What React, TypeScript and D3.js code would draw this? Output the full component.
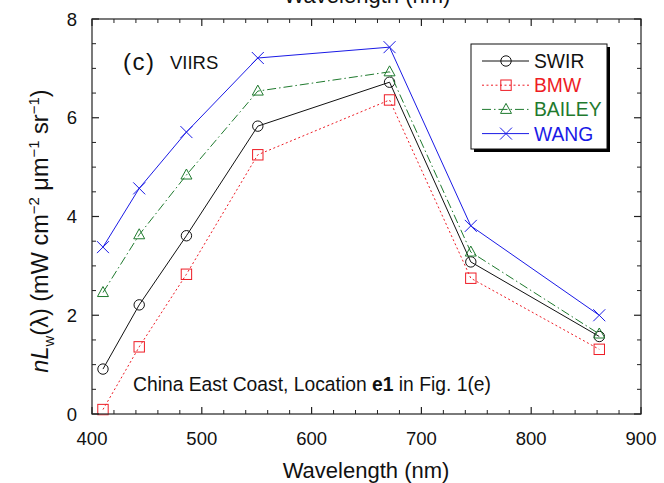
import React from "react";
import * as d3 from "d3";

// VIIRS bands (nm)
const wavelengths = [410, 443, 486, 551, 671, 745, 862];

// nLw(λ) for each atmospheric correction scheme
const swir = [0.91, 2.21, 3.61, 5.83, 6.72, 3.08, 1.57];
const bmw = [0.09, 1.36, 2.83, 5.25, 6.36, 2.75, 1.31];
const bailey = [2.46, 3.63, 4.84, 6.54, 6.93, 3.28, 1.62];
const wang = [3.38, 4.57, 5.71, 7.21, 7.43, 3.81, 2.0];

const xTicks = [400, 500, 600, 700, 800, 900];
const yTicks = [0, 2, 4, 6, 8];

const W = 664;
const H = 483;
const M = { left: 92, right: 641, top: 19, bottom: 414 };
const FONT = "'Liberation Sans', Arial, Helvetica, sans-serif";

type Series = {
  name: string;
  values: number[];
  color: string;
  dash: string | undefined;
  marker: "circle" | "square" | "triangle" | "cross";
};

const series: Series[] = [
  { name: "SWIR", values: swir, color: "#111111", dash: undefined, marker: "circle" },
  { name: "BMW", values: bmw, color: "#ee1c25", dash: "2,2.5", marker: "square" },
  { name: "BAILEY", values: bailey, color: "#1f7a2e", dash: "9,3,1.5,3", marker: "triangle" },
  { name: "WANG", values: wang, color: "#1a1ae6", dash: undefined, marker: "cross" },
];

function Marker({ kind, x, y, color }: { kind: Series["marker"]; x: number; y: number; color: string }) {
  const common = { fill: "none", stroke: color, strokeWidth: 1 };
  if (kind === "circle") return <circle cx={x} cy={y} r={5.2} {...common} />;
  if (kind === "square") return <rect x={x - 5.2} y={y - 5.2} width={10.4} height={10.4} {...common} />;
  if (kind === "triangle")
    return <path d={`M${x},${y - 6}L${x + 5.5},${y + 4}L${x - 5.5},${y + 4}Z`} {...common} />;
  return (
    <path d={`M${x - 6},${y - 6}L${x + 6},${y + 6}M${x - 6},${y + 6}L${x + 6},${y - 6}`} {...common} />
  );
}

export default function App() {
  const x = d3.scaleLinear().domain([400, 900]).range([M.left, M.right]);
  const y = d3.scaleLinear().domain([0, 8]).range([M.bottom, M.top]);

  const line = (vals: number[]) =>
    d3
      .line<number>()
      .x((_, i) => x(wavelengths[i]))
      .y((v) => y(v))(vals) || "";

  const xMinor = d3.range(400, 901, 20).filter((v) => v % 100 !== 0);
  const yMinor = d3.range(0, 8.01, 0.5).filter((v) => v % 2 !== 0);
  const major = 7;
  const minor = 4;

  const lx = 471;
  const ly = 44;
  const lw = 136;
  const lh = 105;

  return (
    <svg width={W} height={H} style={{ position: "absolute", left: 0, top: 0, background: "#fff" }} fontFamily={FONT}>
      <rect width={W} height={H} fill="#fff" />

      {/* axis title of the panel above, running off the top edge */}
      <text x={367} y={3} textAnchor="middle" fontSize={22} fill="#111">
        Wavelength (nm)
      </text>

      {/* series */}
      {series.map((s) => (
        <g key={s.name}>
          <path d={line(s.values)} fill="none" stroke={s.color} strokeWidth={1} strokeDasharray={s.dash} />
          {s.values.map((v, i) => (
            <Marker key={i} kind={s.marker} x={x(wavelengths[i])} y={y(v)} color={s.color} />
          ))}
        </g>
      ))}

      {/* frame */}
      <rect
        x={M.left}
        y={M.top}
        width={M.right - M.left}
        height={M.bottom - M.top}
        fill="none"
        stroke="#333"
        strokeWidth={1.3}
      />

      {/* x ticks, bottom and top */}
      {xTicks.map((t) => (
        <g key={`xt${t}`} stroke="#222" strokeWidth={1.2}>
          <line x1={x(t)} x2={x(t)} y1={M.bottom} y2={M.bottom - major} />
          <line x1={x(t)} x2={x(t)} y1={M.top} y2={M.top + major} />
        </g>
      ))}
      {xMinor.map((t) => (
        <g key={`xm${t}`} stroke="#222" strokeWidth={1}>
          <line x1={x(t)} x2={x(t)} y1={M.bottom} y2={M.bottom - minor} />
          <line x1={x(t)} x2={x(t)} y1={M.top} y2={M.top + minor} />
        </g>
      ))}
      {/* y ticks, left and right */}
      {yTicks.map((t) => (
        <g key={`yt${t}`} stroke="#222" strokeWidth={1.2}>
          <line x1={M.left} x2={M.left + major} y1={y(t)} y2={y(t)} />
          <line x1={M.right} x2={M.right - major} y1={y(t)} y2={y(t)} />
        </g>
      ))}
      {yMinor.map((t) => (
        <g key={`ym${t}`} stroke="#222" strokeWidth={1}>
          <line x1={M.left} x2={M.left + minor} y1={y(t)} y2={y(t)} />
          <line x1={M.right} x2={M.right - minor} y1={y(t)} y2={y(t)} />
        </g>
      ))}

      {/* tick labels */}
      {xTicks.map((t) => (
        <text key={`xl${t}`} x={x(t)} y={445} textAnchor="middle" fontSize={18.5} fill="#111">
          {t}
        </text>
      ))}
      {yTicks.map((t) => (
        <text key={`yl${t}`} x={77} y={y(t) + 6.5} textAnchor="end" fontSize={18.5} fill="#111">
          {t}
        </text>
      ))}

      {/* axis titles */}
      <text x={366} y={478} textAnchor="middle" fontSize={22} fill="#111">
        Wavelength (nm)
      </text>
      <text transform={`translate(48,${231}) rotate(-90)`} textAnchor="middle" fontSize={23.5} fill="#111">
        <tspan fontStyle="italic">nL</tspan>
        <tspan fontSize={15} dy={6}>w</tspan>
        <tspan dy={-6}>(λ) (mW cm</tspan>
        <tspan fontSize={15} dy={-9}>−2</tspan>
        <tspan dy={9}> μm</tspan>
        <tspan fontSize={15} dy={-9}>−1</tspan>
        <tspan dy={9}> sr</tspan>
        <tspan fontSize={15} dy={-9}>−1</tspan>
        <tspan dy={9}>)</tspan>
      </text>

      {/* panel annotations */}
      <text x={123} y={70} fontSize={24} fill="#111" letterSpacing={1.5}>
        (c)
      </text>
      <text x={170} y={68.5} fontSize={18.5} fill="#111">
        VIIRS
      </text>
      <text x={133} y={391} fontSize={19.3} fill="#111">
        China East Coast, Location <tspan fontWeight="bold">e1</tspan> in Fig. 1(e)
      </text>

      {/* legend */}
      <rect x={lx + 3} y={ly + 3} width={lw} height={lh} fill="#000" />
      <rect x={lx} y={ly} width={lw} height={lh} fill="#fff" stroke="#111" strokeWidth={1} />
      {series.map((s, i) => {
        const yy = 61 + i * 24.2;
        return (
          <g key={`lg${s.name}`}>
            <line x1={482} x2={529} y1={yy} y2={yy} stroke={s.color} strokeWidth={1} strokeDasharray={s.dash} />
            <Marker kind={s.marker} x={506} y={yy} color={s.color} />
            <text x={534} y={yy + 7} fontSize={19.3} fill={s.color}>
              {s.name}
            </text>
          </g>
        );
      })}
    </svg>
  );
}
